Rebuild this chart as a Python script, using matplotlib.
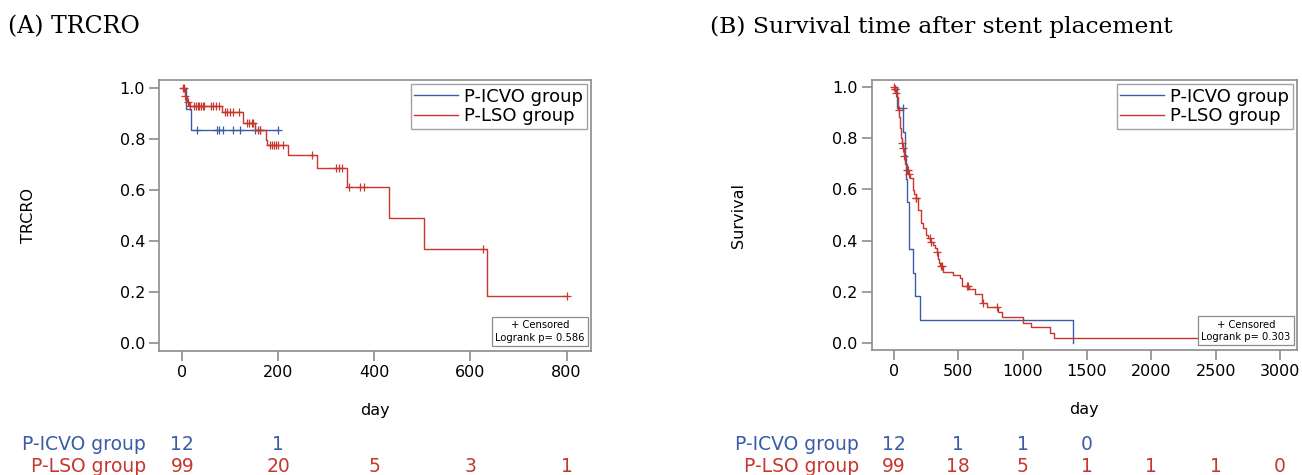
import numpy as np
import matplotlib
matplotlib.use("Agg")
import matplotlib.pyplot as plt
from matplotlib.lines import Line2D

plt.rcParams['font.family'] = ['DejaVu Sans']

BLUE = '#3a5ca8'
RED = '#c8372d'
GRAY = '#8c8c8c'

# (A) TRCRO - step times / survival after each step
a_icvo_t = [0, 7, 17.4]
a_icvo_s = [1.0, 0.917, 0.833]
a_icvo_end = 200
a_icvo_cens = [30, 71.5, 76, 84, 106, 121, 151, 162, 200]

a_lso_t = [0, 5.6, 9, 14.6, 83, 126, 151.5, 174, 177, 221, 280, 343, 430, 504, 635]
a_lso_s = [1.0, 0.967, 0.945, 0.928, 0.906, 0.863, 0.834, 0.795, 0.775, 0.736,
           0.686, 0.61, 0.488, 0.366, 0.183]
a_lso_end = 800
a_lso_cens = [1, 3, 6, 12, 16.5, 23.5, 27.6, 32, 35.6, 39, 42.3, 45.8, 59.7, 64, 69.9,
              76, 89, 94, 99.4, 105, 118, 134, 139.7, 144.5, 148, 157, 162, 182.8, 186,
              191, 195, 200, 210, 269.5, 321, 327, 332, 347, 370, 379, 627, 800]

# (B) Survival time after stent placement
b_icvo_t = [0, 26, 73, 85, 93, 98, 115, 119, 150, 163, 202, 1389]
b_icvo_s = [1.0, 0.917, 0.825, 0.733, 0.642, 0.55, 0.458, 0.367, 0.275, 0.183, 0.092, 0.0]
b_icvo_end = 1389
b_icvo_cens = [67]

b_lso_t = [0, 5, 12, 20, 28, 34, 40, 47, 55, 62, 70, 78, 88, 98, 110, 124, 145, 150,
           158, 168, 190, 207, 228, 246, 265, 280, 306, 322, 332, 345, 352, 360, 383,
           461, 513, 526, 585, 629, 686, 725, 811, 837, 1005, 1064, 1212, 1246]
b_lso_s = [1.0, 0.99, 0.975, 0.96, 0.935, 0.91, 0.88, 0.84, 0.80, 0.78, 0.76, 0.73,
           0.70, 0.675, 0.66, 0.643, 0.63, 0.597, 0.58, 0.565, 0.52, 0.47, 0.448, 0.422,
           0.41, 0.396, 0.383, 0.37, 0.357, 0.33, 0.312, 0.30, 0.279, 0.266, 0.253,
           0.223, 0.21, 0.192, 0.158, 0.143, 0.122, 0.104, 0.080, 0.062, 0.039, 0.019]
b_lso_end = 2990
b_lso_cens = [2, 5, 9, 15, 36, 64, 72, 78, 100, 108, 114, 170, 175, 278, 285, 332, 365,
              370, 565, 575, 690, 800, 2990]

# number at risk
a_ticks = [0, 200, 400, 600, 800]
a_risk_icvo = [12, 1]
a_risk_lso = [99, 20, 5, 3, 1]
b_ticks = [0, 500, 1000, 1500, 2000, 2500, 3000]
b_risk_icvo = [12, 1, 1, 0]
b_risk_lso = [99, 18, 5, 1, 1, 1, 0]

labels = ['P-ICVO group', 'P-LSO group']


def km_line(ax, t, s, end, cens, color):
    tt = list(t) + [end]
    ss = list(s) + [s[-1]]
    ax.step(tt, ss, where='post', color=color, lw=1.0)
    idx = np.searchsorted(t, cens, side='right') - 1
    cy = np.array(s)[idx]
    ax.plot(cens, cy, ls='none', marker='+', ms=6, mew=0.9, color=color)


def panel(ax, curves, ticks, xlim, ylim, ylabel, pval, risks, row_y):
    for t, s, end, cens, color in curves:
        km_line(ax, t, s, end, cens, color)
    ax.set_xlim(*xlim)
    ax.set_ylim(*ylim)
    ax.set_xticks(ticks)
    ax.set_yticks([0.0, 0.2, 0.4, 0.6, 0.8, 1.0])
    ax.yaxis.set_major_formatter(matplotlib.ticker.FormatStrFormatter('%.1f'))
    for sp in ax.spines.values():
        sp.set_color(GRAY)
        sp.set_linewidth(1.2)
    ax.tick_params(direction='out', length=7, width=1.2, color=GRAY,
                   labelsize=11.5, pad=3)
    ax.text(0.5, -0.22, 'day', transform=ax.transAxes, ha='center', va='center',
            fontsize=11.5)
    ax.set_ylabel(ylabel, fontsize=11.5)

    handles = [Line2D([], [], color=BLUE, lw=1.0), Line2D([], [], color=RED, lw=1.0)]
    leg = ax.legend(handles, labels, loc='upper right', bbox_to_anchor=(0.99, 0.985),
                    borderaxespad=0, fancybox=False, fontsize=13, handlelength=2.4,
                    handletextpad=0.35, borderpad=0.2, labelspacing=0.1)
    leg.get_frame().set_edgecolor(GRAY)
    leg.get_frame().set_linewidth(1.0)

    ax.text(0.985, 0.03, '+ Censored\nLogrank p= ' + pval, transform=ax.transAxes,
            ha='right', va='bottom', fontsize=7.2, multialignment='center',
            linespacing=1.3,
            bbox=dict(boxstyle='square,pad=0.35', fc='white', ec=GRAY, lw=0.9))

    trans = ax.get_xaxis_transform()
    for (name, vals, color), y in zip(risks, row_y):
        ax.text(-0.03, y, name, transform=ax.transAxes, ha='right', va='center',
                fontsize=13.5, color=color)
        for x, v in zip(ticks, vals):
            ax.text(x, y, str(v), transform=trans, ha='center', va='center',
                    fontsize=13.5, color=color, clip_on=False)


fig = plt.figure(figsize=(13.02, 4.75), dpi=100)
ax1 = fig.add_axes([159 / 1302, 1 - 351 / 475, 432 / 1302, 271 / 475])
ax2 = fig.add_axes([871.7 / 1302, 1 - 350 / 475, 425.3 / 1302, 270 / 475])

panel(ax1,
      [(a_icvo_t, a_icvo_s, a_icvo_end, a_icvo_cens, BLUE),
       (a_lso_t, a_lso_s, a_lso_end, a_lso_cens, RED)],
      a_ticks, (-48.5, 851), (-0.033, 1.03), 'TRCRO', '0.586',
      [(labels[0], a_risk_icvo, BLUE), (labels[1], a_risk_lso, RED)],
      [(351 - 445) / 271, (351 - 466) / 271])
ax1.yaxis.set_label_coords((36 - 159) / 432, 0.5)

panel(ax2,
      [(b_icvo_t, b_icvo_s, b_icvo_end, b_icvo_cens, BLUE),
       (b_lso_t, b_lso_s, b_lso_end, b_lso_cens, RED)],
      b_ticks, (-173, 3131), (-0.026, 1.026), 'Survival', '0.303',
      [(labels[0], b_risk_icvo, BLUE), (labels[1], b_risk_lso, RED)],
      [(350 - 445) / 270, (350 - 466) / 270])
ax2.yaxis.set_label_coords((746 - 871.7) / 425.3, 0.5)

fig.text(8 / 1302, 1 - 27 / 475, '(A) TRCRO', family='DejaVu Serif', fontsize=17,
         ha='left', va='center')
fig.text(710 / 1302, 1 - 27 / 475, '(B) Survival time after stent placement',
         family='DejaVu Serif', fontsize=16.8, ha='left', va='center')

fig.savefig('out.png', dpi=100)
